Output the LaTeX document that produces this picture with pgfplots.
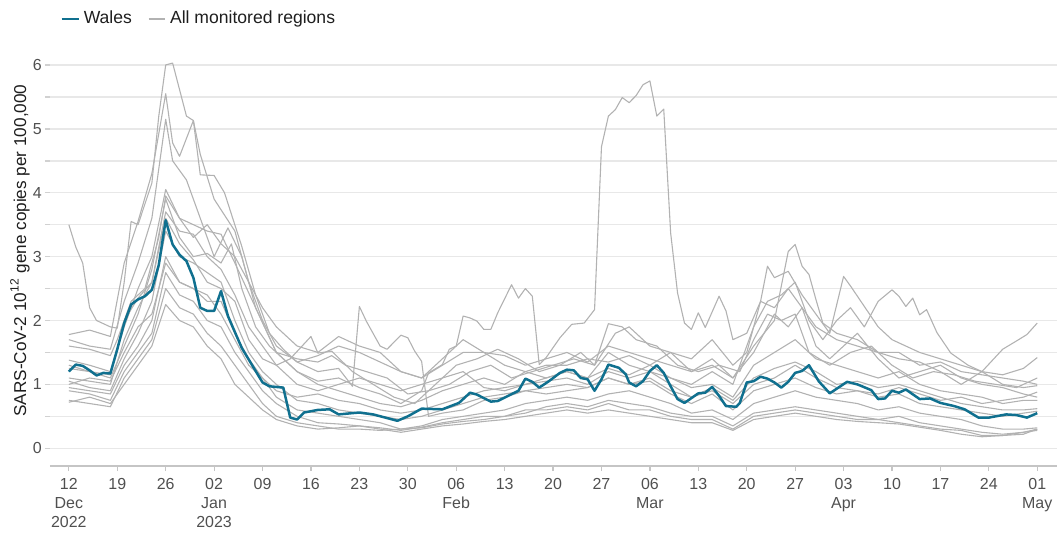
\documentclass[border=0pt]{standalone}
\usepackage{pgfplots}
\pgfplotsset{compat=1.18}
\usepackage{fontspec}
\setmainfont{Liberation Sans}

\definecolor{wales}{RGB}{16,112,143}
\definecolor{regions}{RGB}{178,178,178}
\definecolor{gridc}{RGB}{232,232,232}
\definecolor{ticktext}{RGB}{80,80,80}
\definecolor{labeltext}{RGB}{30,30,30}

\pgfplotsset{
  region/.style={regions, line width=0.55pt, line join=round, forget plot},
}

\begin{document}
\begin{tikzpicture}
\begin{axis}[
  name=ax,
  scale only axis,
  width=504.5pt, height=216pt,
  xmin=-2.74, xmax=142.86,
  ymin=-0.28, ymax=6.47,
  axis lines*=left,
  y axis line style={draw=none},
  x axis line style={draw=gridc!85!black, line width=0.7pt},
  tick align=outside,
  major tick length=2.5pt,
  xtick={0,7,...,140},
  xticklabels={{12\\Dec\\2022},19,26,{02\\Jan\\2023},09,16,23,30,{06\\Feb},13,20,27,{06\\Mar},13,20,27,{03\\Apr},10,17,24,{01\\May}},
  xticklabel style={align=center, font=\fontsize{8}{9.5}\selectfont, text=ticktext},
  xtick style={draw=gridc!85!black, line width=0.6pt},
  ytick={0,0.5,...,6},
  yticklabels={0,,1,,2,,3,,4,,5,,6},
  yticklabel style={font=\fontsize{8}{9.5}\selectfont, text=ticktext, xshift=2pt},
  ytick style={draw=gridc!90!black, line width=0.75pt},
  ymajorgrids,
  major grid style={draw=gridc, line width=0.75pt},
  ylabel={SARS-CoV-2 10\textsuperscript{12} gene copies per 100,000},
  ylabel style={font=\fontsize{8.6}{10}\selectfont, text=labeltext, at={(axis description cs:-0.0297,0.5)}, anchor=center},
  legend style={at={(axis description cs:0.004,1.037)}, anchor=west, draw=none, fill=none,
    font=\fontsize{8.8}{10}\selectfont, text=labeltext, legend columns=2,
    /tikz/every even column/.append style={column sep=6pt}},
  legend image code/.code={\draw[#1] (0pt,0pt) -- (8.5pt,0pt);},
]
\addlegendimage{wales, line width=1.25pt}
\addlegendentry{Wales}
\addlegendimage{regions, line width=0.6pt}
\addlegendentry{All monitored regions}

% regions
\addplot[region] coordinates {
(0,3.5)(1,3.15)(2,2.9)(3,2.2)(4,2.0)(6,1.9)(7,1.88)(8,2.6)(9,3.55)(10,3.5)(12,4.15)(13,5.2)(14,6.0)(15,6.03)(17,5.2)(18,5.13)(19,4.28)(21,4.27)(22.5,4.0)(25,3.16)(27,2.4)(29,1.8)(31,1.55)(33,1.35)(36,1.2)(39,1.25)(41,0.97)(42,2.22)(43,1.99)(45,1.6)(46,1.55)(48,1.77)(49,1.73)(50,1.52)(51,1.36)(52,0.5)(54,0.55)(57,0.6)(60,0.75)(63,0.8)(66,0.9)(69,0.85)(72,0.9)(75,0.95)(78,1.1)(81,1.0)(84,1.1)(87,0.9)(90,0.8)(93,0.9)(96,0.7)(99,1.0)(102,1.1)(105,1.3)(108,1.1)(111,0.95)(114,0.9)(117,0.85)(120,0.95)(123,0.85)(126,0.75)(129,0.8)(132,0.7)(135,0.75)(138,0.8)(140,0.88)
};
\addplot[region] coordinates {
(0,1.6)(3,1.55)(6,1.45)(7,1.7)(9,2.3)(11,2.5)(13,3.3)(14,3.95)(16,3.6)(18,3.5)(20,3.4)(22,3.35)(24,2.9)(27,2.2)(30,1.5)(33,1.2)(36,1.05)(39,1.1)(42,0.95)(45,0.85)(48,0.7)(51,0.9)(52,1.18)(54,1.31)(55,1.55)(56,1.6)(57,2.07)(58,2.04)(59,1.99)(60,1.86)(61,1.86)(62,2.12)(64,2.56)(65,2.35)(66,2.50)(67,2.38)(68,1.31)(69,1.42)(71,1.73)(72.7,1.94)(74.5,1.96)(76,2.17)(77,4.72)(78,5.2)(79,5.3)(80,5.49)(81,5.41)(82,5.52)(83,5.69)(84,5.75)(85,5.2)(86,5.31)(87,3.37)(88,2.43)(89,1.96)(90,1.86)(91,2.12)(92,1.89)(94,2.38)(95,2.15)(96,1.7)(98,1.8)(100,2.3)(102,2.2)(104,2.5)(106,2.2)(108,1.9)(111,1.7)(114,1.6)(117,1.5)(120,1.5)(123,1.3)(126,1.35)(129,1.2)(132,1.15)(135,1.1)(138,1.05)(140,1.0)
};
\addplot[region] coordinates {
(0,1.78)(3,1.85)(6,1.75)(8,2.9)(10,3.55)(12,4.3)(14,5.55)(15,4.78)(16,4.57)(18,5.13)(19,4.6)(21,3.9)(24,3.4)(26,2.6)(28,2.0)(30,1.6)(33,1.35)(36,1.45)(39,1.6)(42,1.5)(45,1.35)(48,1.2)(51,1.1)(54,1.3)(57,1.5)(60,1.5)(63,1.45)(66,1.3)(69,1.4)(72,1.5)(75,1.35)(78,1.6)(81,1.5)(84,1.4)(87,1.3)(90,1.2)(93,1.4)(96,1.1)(99,1.6)(102,2.0)(104,3.08)(105,3.19)(106,2.85)(107,2.72)(108,2.33)(109,1.96)(111,1.8)(114,1.7)(117,1.5)(120,1.4)(123,1.35)(126,1.2)(129,1.0)(132,1.2)(135,1.55)(137,1.68)(138.5,1.78)(140,1.96)
};
\addplot[region] coordinates {
(0,1.7)(3,1.6)(6,1.55)(8,2.3)(10,2.9)(12,3.6)(14,5.15)(15,4.5)(17,4.2)(19,3.6)(21,3.0)(23,3.45)(25,3.0)(27,2.2)(30,1.5)(33,1.4)(36,1.35)(38,1.45)(40,1.3)(43,1.2)(46,1.1)(49,0.85)(52,0.9)(55,1.0)(58,1.2)(61,1.3)(64,1.1)(67,1.2)(70,1.3)(73,1.4)(76,1.3)(79,1.8)(81,1.9)(84,1.6)(87,1.5)(90,1.4)(93,1.7)(96,1.3)(98,1.5)(100,2.3)(101,2.85)(102,2.67)(104,2.77)(106,2.4)(108,2.1)(110,1.8)(112,2.69)(113,2.54)(114,2.38)(115,2.22)(117,1.9)(119,1.7)(121,1.6)(123,1.5)(126,1.4)(129,1.3)(132,1.2)(135,1.15)(138,1.25)(140,1.42)
};
\addplot[region] coordinates {
(0,1.38)(3,1.3)(6,1.2)(8,1.9)(10,2.5)(12,3.0)(14,4.05)(16,3.6)(18,3.3)(20,3.5)(22,3.2)(24,3.0)(26,2.6)(28,2.2)(30,1.9)(33,1.6)(36,1.5)(39,1.75)(42,1.6)(45,1.5)(48,1.2)(51,1.1)(54,1.4)(57,1.7)(60,1.5)(63,1.3)(66,1.2)(69,1.1)(72,1.2)(75,1.1)(78,1.5)(81,1.3)(84,1.2)(87,1.1)(90,1.0)(93,1.2)(96,1.0)(99,1.9)(101,2.3)(103,2.4)(105,2.6)(107,2.0)(109,1.7)(111,2.0)(113,2.2)(115,1.9)(117,2.3)(119,2.48)(120,2.38)(121,2.22)(122,2.35)(123,2.09)(124,2.17)(125.5,1.81)(127.5,1.49)(130,1.3)(132,1.2)(135,1.0)(138,0.95)(140,0.98)
};
\addplot[region] coordinates {
(0,1.25)(3,1.2)(6,1.1)(8,1.6)(10,2.1)(12,2.8)(14,3.9)(16,3.3)(18,3.0)(20,3.05)(22,2.9)(23.5,3.2)(25,2.5)(27,1.9)(29,1.6)(31,1.4)(33,1.2)(36,1.0)(39,0.9)(42,0.8)(45,0.7)(48,0.65)(51,0.75)(54,0.9)(57,1.0)(60,1.1)(63,1.0)(66,1.2)(69,1.3)(72,1.3)(75,1.4)(78,1.35)(81,1.45)(84,1.3)(87,1.5)(90,1.2)(93,1.3)(96,1.1)(99,1.5)(102,2.1)(104,1.9)(106,2.2)(108,1.6)(110,1.4)(112,1.6)(114,1.8)(117,1.4)(120,1.1)(123,1.2)(126,1.3)(129,1.1)(132,1.0)(135,0.95)(138,0.85)(140,0.8)
};
\addplot[region] coordinates {
(0,1.1)(3,1.05)(6,1.0)(8,1.7)(10,2.2)(12,2.6)(14,3.7)(16,3.4)(18,3.35)(20,3.0)(22,2.8)(24,2.4)(26,1.9)(28,1.6)(30,1.3)(33,1.0)(36,0.9)(39,1.0)(42,1.1)(45,1.0)(48,0.9)(51,1.0)(54,1.1)(57,1.2)(60,0.95)(63,0.9)(66,1.0)(69,1.1)(72,1.2)(75,1.1)(78,1.25)(81,1.15)(84,1.3)(87,1.1)(90,0.95)(93,1.0)(96,0.8)(99,1.3)(102,1.5)(105,1.7)(108,1.4)(111,1.3)(114,1.2)(117,1.1)(120,1.2)(123,1.0)(126,0.9)(129,0.85)(132,0.8)(135,0.7)(138,0.75)(140,0.75)
};
\addplot[region] coordinates {
(0,1.05)(3,0.95)(6,0.9)(8,1.4)(10,1.8)(12,2.3)(14,3.4)(16,3.0)(18,2.9)(20,2.75)(22,2.6)(24,2.0)(26,1.5)(28,1.2)(30,1.0)(33,0.75)(36,0.7)(39,0.6)(42,0.55)(45,0.5)(48,0.45)(51,0.5)(54,0.6)(57,0.7)(60,0.8)(63,0.85)(66,0.9)(69,0.95)(72,1.0)(75,0.95)(78,1.1)(81,1.0)(84,1.05)(87,0.85)(90,0.7)(93,0.85)(96,0.6)(99,0.9)(102,1.0)(105,1.1)(108,0.95)(111,0.85)(114,0.9)(117,0.8)(120,0.85)(123,0.7)(126,0.65)(129,0.6)(132,0.55)(135,0.5)(138,0.55)(140,0.58)
};
\addplot[region] coordinates {
(0,0.95)(3,0.9)(6,0.85)(8,1.3)(10,1.6)(12,2.0)(14,3.0)(16,2.6)(18,2.5)(20,2.3)(22,2.3)(24,1.8)(26,1.4)(28,1.1)(30,0.8)(33,0.6)(36,0.55)(39,0.5)(42,0.45)(45,0.4)(48,0.3)(51,0.35)(54,0.45)(57,0.5)(60,0.55)(63,0.6)(66,0.7)(69,0.75)(72,0.8)(75,0.75)(78,0.85)(81,0.9)(84,0.8)(87,0.7)(90,0.55)(93,0.6)(96,0.45)(99,0.7)(102,0.8)(105,0.9)(108,0.8)(111,0.75)(114,0.7)(117,0.6)(120,0.65)(123,0.55)(126,0.5)(129,0.45)(132,0.35)(135,0.3)(138,0.3)(140,0.32)
};
\addplot[region] coordinates {
(0,0.9)(3,0.85)(6,0.75)(8,1.2)(10,1.5)(12,1.8)(14,2.75)(16,2.4)(18,2.3)(20,2.0)(22,1.9)(24,1.5)(26,1.2)(28,0.9)(30,0.7)(33,0.5)(36,0.4)(39,0.38)(42,0.35)(45,0.32)(48,0.28)(51,0.33)(54,0.4)(57,0.45)(60,0.5)(63,0.5)(66,0.55)(69,0.65)(72,0.7)(75,0.65)(78,0.75)(81,0.7)(84,0.65)(87,0.55)(90,0.5)(93,0.5)(96,0.35)(99,0.55)(102,0.6)(105,0.65)(108,0.6)(111,0.55)(114,0.5)(117,0.45)(120,0.5)(123,0.4)(126,0.35)(129,0.3)(132,0.25)(135,0.22)(138,0.25)(140,0.28)
};
\addplot[region] coordinates {
(0,0.75)(3,0.7)(6,0.65)(8,1.1)(10,1.4)(12,1.7)(14,2.5)(16,2.2)(18,2.1)(20,1.8)(22,1.6)(24,1.3)(26,1.0)(28,0.7)(30,0.5)(33,0.4)(36,0.35)(39,0.3)(42,0.3)(45,0.28)(48,0.3)(51,0.32)(54,0.38)(57,0.42)(60,0.45)(63,0.5)(66,0.6)(69,0.6)(72,0.65)(75,0.6)(78,0.7)(81,0.6)(84,0.6)(87,0.5)(90,0.45)(93,0.45)(96,0.3)(99,0.5)(102,0.55)(105,0.6)(108,0.55)(111,0.5)(114,0.45)(117,0.45)(120,0.4)(123,0.35)(126,0.3)(129,0.28)(132,0.2)(135,0.2)(138,0.25)(140,0.3)
};
\addplot[region] coordinates {
(0,0.72)(3,0.8)(6,0.7)(8,1.0)(10,1.3)(12,1.6)(14,2.25)(16,2.0)(18,1.9)(20,1.6)(22,1.4)(24,1.0)(26,0.8)(28,0.6)(30,0.45)(33,0.35)(36,0.3)(39,0.32)(42,0.35)(45,0.3)(48,0.25)(51,0.3)(54,0.35)(57,0.38)(60,0.42)(63,0.45)(66,0.5)(69,0.55)(72,0.6)(75,0.55)(78,0.6)(81,0.55)(84,0.5)(87,0.45)(90,0.4)(93,0.4)(96,0.28)(99,0.45)(102,0.5)(105,0.55)(108,0.5)(111,0.45)(114,0.42)(117,0.4)(120,0.38)(123,0.33)(126,0.28)(129,0.22)(132,0.18)(135,0.2)(138,0.22)(140,0.3)
};
\addplot[region] coordinates {
(0,1.3)(3,1.2)(6,1.15)(8,2.0)(10,2.35)(12,2.6)(14,3.6)(16,3.2)(18,2.95)(20,2.6)(22,2.5)(24,2.3)(26,1.7)(28,1.4)(30,1.3)(32,1.4)(35,1.75)(36,1.49)(38,1.52)(41,1.2)(44,1.0)(47,0.8)(50,0.7)(53,1.0)(56,1.3)(59,1.4)(62,1.55)(65,1.4)(68,1.2)(71,1.3)(74,1.5)(76,1.3)(78,1.95)(80,1.9)(82,1.7)(85,1.6)(88,1.3)(91,1.2)(94,1.3)(97,1.2)(99,1.7)(101,2.1)(103,2.0)(105,2.1)(107,1.5)(110,1.3)(113,1.5)(116,1.6)(119,1.3)(122,1.1)(125,1.2)(128,1.15)(131,1.05)(134,1.0)(137,0.95)(140,1.1)
};
\addplot[region] coordinates {
(0,1.0)(3,1.1)(6,1.05)(8,1.5)(10,1.9)(12,2.1)(14,2.9)(16,2.6)(18,2.5)(20,2.4)(22,2.1)(24,1.7)(26,1.3)(28,1.1)(30,0.9)(33,0.8)(36,0.85)(39,0.75)(42,0.7)(45,0.6)(48,0.55)(51,0.6)(54,0.7)(57,0.8)(60,0.9)(63,0.95)(66,1.0)(69,1.05)(72,1.1)(75,1.0)(78,1.2)(81,1.1)(84,1.2)(87,1.0)(90,0.8)(93,0.95)(96,0.75)(99,1.1)(102,1.25)(105,1.35)(108,1.2)(111,1.0)(114,1.05)(117,0.95)(120,1.0)(123,0.9)(126,0.8)(129,0.7)(132,0.65)(135,0.6)(138,0.6)(140,0.62)
};

% Wales
\addplot[wales, line width=1.25pt, line join=round, forget plot] coordinates {
(0,1.20)(1,1.31)(2,1.29)(3,1.22)(4,1.14)(5,1.18)(6,1.17)(7,1.55)(8,1.96)(9,2.25)(10,2.33)(11,2.38)(12,2.48)(13,2.87)(14,3.57)(15,3.19)(16,3.03)(17,2.93)(18,2.67)(19,2.20)(20,2.15)(21,2.15)(22,2.46)(23,2.07)(25,1.57)(26,1.39)(28,1.03)(29,0.97)(31,0.95)(32,0.48)(33,0.45)(34,0.56)(36,0.60)(37.7,0.61)(39,0.53)(42,0.56)(44,0.53)(47.5,0.43)(49,0.50)(51,0.62)(54,0.61)(56.4,0.71)(58,0.87)(59,0.84)(61,0.73)(62,0.74)(65,0.90)(66,1.09)(67,1.04)(68,0.95)(69.4,1.05)(71,1.18)(72,1.23)(73,1.22)(74,1.10)(75,1.08)(76,0.90)(77,1.08)(78,1.31)(79.5,1.26)(80.5,1.16)(81,1.03)(82,0.97)(83,1.05)(84,1.21)(85,1.30)(86,1.18)(87,0.97)(88,0.77)(89,0.71)(91,0.86)(92,0.87)(93,0.96)(94,0.82)(95,0.66)(96.5,0.65)(97,0.71)(98,1.03)(99,1.05)(100,1.12)(101,1.09)(102,1.03)(103,0.95)(104,1.04)(105,1.18)(106,1.21)(107,1.30)(108.4,1.05)(110,0.86)(112.5,1.04)(114,1.00)(116,0.91)(117,0.77)(118,0.78)(119,0.90)(120,0.87)(121,0.92)(123,0.77)(124.5,0.78)(126,0.71)(128,0.66)(129.5,0.61)(131.5,0.48)(133,0.48)(135.5,0.53)(137,0.52)(138.5,0.48)(140,0.55)
};
\end{axis}
\path (ax.south west) ++(-25pt,-29.5pt) coordinate (bl);
\path (ax.north east) ++(0pt,17.5pt) coordinate (tr);
\path (bl) rectangle (tr);
\end{tikzpicture}
\end{document}
